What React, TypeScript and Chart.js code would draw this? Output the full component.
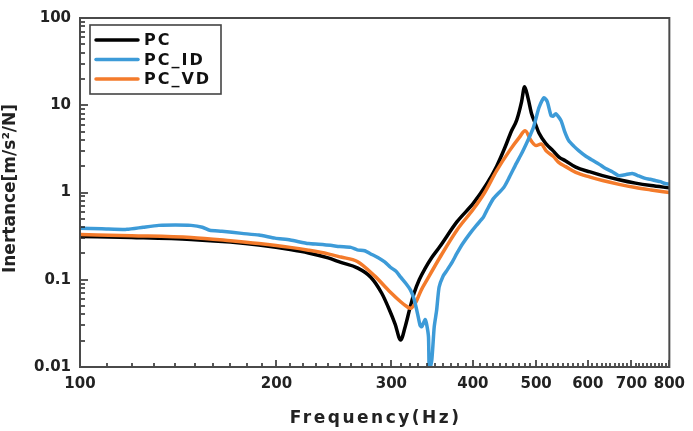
import { useEffect, useRef } from "react";
import { Chart, registerables } from "chart.js";

Chart.register(...registerables);

// Frequency response (inertance) of three configurations
const seriesNames = ["PC", "PC_ID", "PC_VD"];

const pcFreq = [100, 120, 148, 170, 188, 210, 224, 240, 251, 266, 279, 290, 298, 304, 310, 315, 320, 325, 331, 338, 346, 356, 378, 401, 420, 435, 448, 458, 467, 475, 480, 486, 492, 498, 505, 518, 531, 542, 555, 575, 605, 632, 670, 710, 750, 800];
const pcValues = [0.314, 0.305, 0.29, 0.27, 0.25, 0.222, 0.203, 0.178, 0.158, 0.137, 0.107, 0.07, 0.045, 0.031, 0.0204, 0.029, 0.046, 0.07, 0.1, 0.135, 0.18, 0.24, 0.46, 0.76, 1.25, 2.0, 3.3, 5.0, 6.8, 11.0, 16.3, 12.0, 8.0, 6.3, 4.8, 3.6, 3.0, 2.55, 2.3, 1.95, 1.72, 1.56, 1.4, 1.28, 1.2, 1.13];

const idFreq = [100, 108, 118, 125, 132, 140, 148, 154, 158, 165, 177, 188, 199, 210, 224, 232, 242, 250, 260, 266, 273, 280, 286, 293, 299, 305, 310, 316, 321, 325, 329, 332, 334, 338, 340, 342, 343, 346, 349, 352, 355, 360, 365, 372, 378, 386, 396, 405, 415, 420, 430, 446, 455, 466, 475, 483, 490, 495, 500, 505, 514, 520, 527, 531, 536, 546, 553, 561, 571, 581, 596, 611, 625, 639, 655, 669, 685, 702, 718, 735, 748, 761, 775, 788, 800];
const idValues = [0.39, 0.385, 0.378, 0.4, 0.42, 0.425, 0.42, 0.4, 0.37, 0.36, 0.34, 0.325, 0.3, 0.285, 0.26, 0.255, 0.248, 0.24, 0.235, 0.22, 0.215, 0.195, 0.18, 0.16, 0.139, 0.125, 0.107, 0.09, 0.076, 0.06, 0.041, 0.03, 0.029, 0.035, 0.03, 0.022, 0.009, 0.012, 0.029, 0.045, 0.082, 0.11, 0.128, 0.16, 0.2, 0.26, 0.34, 0.42, 0.52, 0.62, 0.85, 1.14, 1.5, 2.14, 2.8, 3.63, 4.6, 5.5, 7.2, 9.4, 12.2, 11.0, 7.6, 7.5, 8.0, 6.65, 5.0, 3.93, 3.4, 3.02, 2.6, 2.32, 2.1, 1.88, 1.72, 1.56, 1.6, 1.65, 1.55, 1.45, 1.42, 1.37, 1.33, 1.27, 1.25];

const vdFreq = [100, 120, 148, 170, 188, 210, 224, 240, 251, 266, 283, 299, 310, 316, 321, 327, 333, 340, 356, 378, 401, 417, 435, 455, 471, 481, 491, 500, 509, 518, 531, 542, 555, 575, 605, 632, 670, 710, 750, 800];
const vdValues = [0.33, 0.32, 0.305, 0.28, 0.26, 0.235, 0.218, 0.198, 0.182, 0.162, 0.11, 0.072, 0.056, 0.05, 0.047, 0.055, 0.075, 0.099, 0.18, 0.37, 0.65, 1.0, 1.78, 3.0, 4.25, 5.1, 3.93, 3.45, 3.6, 3.0, 2.6, 2.2, 1.98, 1.7, 1.5, 1.37, 1.24, 1.14, 1.07, 1.0];

const xTickValues = [100, 200, 300, 400, 500, 600, 700, 800];
const xTickLabels = ["100", "200", "300", "400", "500", "600", "700", "800"];
const yTickValues = [0.01, 0.1, 1, 10, 100];
const yTickLabels = ["0.01", "0.1", "1", "10", "100"];

const xTitle = "Frequency(Hz)";
const yTitle = "Inertance[m/s²/N]";

const FONT = "'DejaVu Sans', 'Liberation Sans', sans-serif";
const INK = "#222";
const FRAME = "#4a4a4a";

const toPoints = (xs: number[], ys: number[]) => xs.map((x, i) => ({ x, y: ys[i] }));

// Frame, inward tick marks, legend box and axis titles
const decorPlugin = {
  id: "decor",
  afterDraw(chart: any) {
    const { ctx, chartArea: a } = chart;
    const xs = chart.scales.x;
    const ys = chart.scales.y;
    ctx.save();

    // inward tick marks along the bottom and left edges
    ctx.fillStyle = "#222";
    for (let f = xTickValues[0]; f <= xTickValues[xTickValues.length - 1]; f += 10) {
      const px = Math.round(xs.getPixelForValue(f));
      const len = f % 100 === 0 ? 7 : 4;
      ctx.fillRect(px - 0.75, a.bottom - len, 1.5, len);
    }
    for (let e = -2; e <= 1; e++) {
      for (let k = 1; k <= 9; k++) {
        const py = Math.round(ys.getPixelForValue(k * Math.pow(10, e)));
        const len = k === 1 ? 8 : 5;
        ctx.fillRect(a.left, py - 0.75, len, 1.5);
      }
    }

    ctx.strokeStyle = FRAME;
    ctx.lineWidth = 2;
    ctx.strokeRect(a.left, a.top, a.right - a.left, a.bottom - a.top);

    // legend
    const bx = a.left + 10;
    const by = a.top + 7;
    ctx.fillStyle = "#fff";
    ctx.fillRect(bx, by, 131, 69);
    ctx.lineWidth = 1.6;
    ctx.strokeStyle = "#444";
    ctx.strokeRect(bx, by, 131, 69);
    const ds = chart.data.datasets;
    ctx.font = `bold 16px ${FONT}`;
    (ctx as any).letterSpacing = "2px";
    ctx.textBaseline = "middle";
    ctx.textAlign = "left";
    ds.forEach((d: any, i: number) => {
      const ly = by + 15 + i * 19.5;
      ctx.strokeStyle = d.borderColor;
      ctx.lineWidth = 3.5;
      ctx.lineCap = "round";
      ctx.beginPath();
      ctx.moveTo(bx + 6, ly);
      ctx.lineTo(bx + 48, ly);
      ctx.stroke();
      ctx.fillStyle = "#111";
      ctx.fillText(d.label, bx + 54, ly + 1);
    });

    // axis titles
    ctx.fillStyle = INK;
    ctx.font = `bold 17px ${FONT}`;
    (ctx as any).letterSpacing = "2.5px";
    ctx.textAlign = "center";
    ctx.fillText(xTitle, (a.left + a.right) / 2 + 1, 419);

    (ctx as any).letterSpacing = "0px";
    ctx.translate(11, (a.top + a.bottom) / 2 - 4);
    ctx.rotate(-Math.PI / 2);
    ctx.fillText(yTitle, 0, 0);
    ctx.restore();
  },
};

export default function App() {
  const canvasRef = useRef<HTMLCanvasElement | null>(null);

  useEffect(() => {
    if (!canvasRef.current) return;
    const chart = new Chart(canvasRef.current, {
      type: "line",
      data: {
        datasets: [
          {
            label: seriesNames[0],
            data: toPoints(pcFreq, pcValues),
            borderColor: "#000000",
            borderWidth: 3.5,
            pointRadius: 0,
            cubicInterpolationMode: "monotone",
            order: 2,
          },
          {
            label: seriesNames[1],
            data: toPoints(idFreq, idValues),
            borderColor: "#3d9bd8",
            borderWidth: 3.5,
            pointRadius: 0,
            tension: 0.2,
            order: 0,
          },
          {
            label: seriesNames[2],
            data: toPoints(vdFreq, vdValues),
            borderColor: "#f47b2b",
            borderWidth: 3.5,
            pointRadius: 0,
            cubicInterpolationMode: "monotone",
            order: 1,
          },
        ],
      } as any,
      plugins: [decorPlugin],
      options: {
        animation: false,
        responsive: false,
        layout: { padding: { top: 17, right: 20, left: 0, bottom: 0 } },
        plugins: { legend: { display: false }, tooltip: { enabled: false } },
        elements: { line: { borderJoinStyle: "round", borderCapStyle: "round" } },
        scales: {
          x: {
            type: "logarithmic",
            min: 100,
            max: 800,
            grid: { display: false, drawTicks: false },
            border: { display: false },
            afterBuildTicks: (s: any) => {
              s.ticks = xTickValues.map((v) => ({ value: v }));
            },
            afterFit: (s: any) => {
              s.height = 64;
            },
            ticks: {
              autoSkip: false,
              maxRotation: 0,
              padding: 8,
              color: INK,
              font: { family: FONT, weight: "bold", size: 15 },
              callback: (_v: any, i: number) => xTickLabels[i],
            },
          },
          y: {
            type: "logarithmic",
            min: 0.01,
            max: 100,
            grid: { display: false, drawTicks: false },
            border: { display: false },
            afterBuildTicks: (s: any) => {
              s.ticks = yTickValues.map((v) => ({ value: v }));
            },
            afterFit: (s: any) => {
              s.width = 80;
            },
            ticks: {
              autoSkip: false,
              padding: 9,
              color: INK,
              font: { family: FONT, weight: "bold", size: 15 },
              callback: (_v: any, i: number) => yTickLabels[i],
            },
          },
        },
      } as any,
    });
    return () => chart.destroy();
  }, []);

  return (
    <div style={{ position: "absolute", left: 0, top: 0, width: 693, height: 431, background: "#fff" }}>
      <canvas ref={canvasRef} width={693} height={431} />
    </div>
  );
}
